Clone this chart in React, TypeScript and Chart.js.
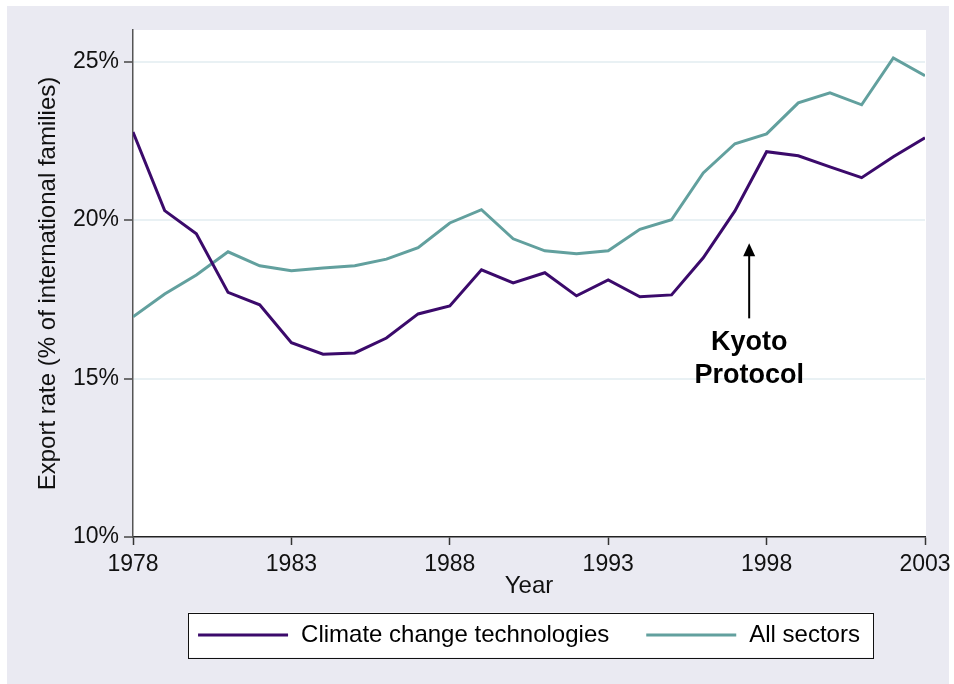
import React, { useEffect, useRef } from "react";
import { Chart, registerables } from "chart.js";

Chart.register(...registerables);

const years = [
  1978, 1979, 1980, 1981, 1982, 1983, 1984, 1985, 1986, 1987, 1988, 1989, 1990,
  1991, 1992, 1993, 1994, 1995, 1996, 1997, 1998, 1999, 2000, 2001, 2002, 2003,
];
const climateChange = [
  22.78, 20.3, 19.57, 17.72, 17.33, 16.13, 15.77, 15.81, 16.28, 17.04, 17.29, 18.43, 18.02,
  18.34, 17.61, 18.11, 17.58, 17.64, 18.81, 20.29, 22.16, 22.03, 21.68, 21.34, 22.0, 22.6,
];
const allSectors = [
  16.95, 17.67, 18.27, 19.0, 18.56, 18.4, 18.49, 18.56, 18.77, 19.13, 19.91, 20.33, 19.41,
  19.03, 18.94, 19.03, 19.71, 20.01, 21.49, 22.41, 22.72, 23.7, 24.02, 23.64, 25.12, 24.56,
];
const seriesLabels = ["Climate change technologies", "All sectors"];
const xTicks = [1978, 1983, 1988, 1993, 1998, 2003];
const yTicks = [10, 15, 20, 25];
const annotationLines = ["Kyoto", "Protocol"];
const arrowYear = 1997.45;
const arrowTipValue = 19.27;
const arrowBaseValue = 16.9;
const annotationTextValues = [16.13, 15.08];

const FONT = "'Liberation Sans', Arial, Helvetica, sans-serif";
const PURPLE = "#3b0a6b";
const TEAL = "#62a09e";

export default function App() {
  const ref = useRef<HTMLCanvasElement | null>(null);

  useEffect(() => {
    document.documentElement.style.overflow = "hidden";
    document.body.style.overflow = "hidden";
    document.body.style.margin = "0";
    if (!ref.current) return;

    const bgPlugin = {
      id: "plotBg",
      beforeDraw(chart: any) {
        const { ctx, chartArea: a } = chart;
        ctx.save();
        ctx.fillStyle = "#ffffff";
        ctx.fillRect(a.left, a.top, a.right - a.left + 1, a.bottom - a.top);
        ctx.restore();
      },
    };

    const annotationPlugin = {
      id: "kyoto",
      afterDatasetsDraw(chart: any) {
        const { ctx, scales } = chart;
        const x = scales.x.getPixelForValue(arrowYear);
        const yTip = scales.y.getPixelForValue(arrowTipValue);
        const yBase = scales.y.getPixelForValue(arrowBaseValue);
        ctx.save();
        ctx.strokeStyle = "#000";
        ctx.fillStyle = "#000";
        ctx.lineWidth = 2;
        ctx.beginPath();
        ctx.moveTo(x, yBase);
        ctx.lineTo(x, yTip + 10);
        ctx.stroke();
        ctx.beginPath();
        ctx.moveTo(x, yTip);
        ctx.lineTo(x - 6, yTip + 13);
        ctx.lineTo(x + 6, yTip + 13);
        ctx.closePath();
        ctx.fill();
        ctx.font = `bold 27px ${FONT}`;
        ctx.textAlign = "center";
        ctx.textBaseline = "middle";
        annotationLines.forEach((t, i) => {
          ctx.fillText(t, x, scales.y.getPixelForValue(annotationTextValues[i]));
        });
        ctx.restore();
      },
    };

    const legendPlugin = {
      id: "framedLegend",
      afterDraw(chart: any) {
        const { ctx, chartArea: a } = chart;
        const ds = chart.data.datasets;
        ctx.save();
        ctx.font = `24px ${FONT}`;
        const lineLen = 90;
        const gapText = 13;
        const gapItems = 37;
        const widths = ds.map((d: any) => ctx.measureText(d.label).width);
        let total = 0;
        ds.forEach((_: any, i: number) => {
          total += lineLen + gapText + widths[i];
          if (i < ds.length - 1) total += gapItems;
        });
        const cx = (a.left + a.right) / 2;
        const cy = a.bottom + 98;
        let x = cx - total / 2;
        const fx0 = x - 10;
        const fx1 = x + total + 13;
        ctx.fillStyle = "#ffffff";
        ctx.fillRect(fx0, cy - 22.5, fx1 - fx0, 45);
        ctx.strokeStyle = "#111";
        ctx.lineWidth = 1;
        ctx.strokeRect(Math.round(fx0) + 0.5, Math.round(cy - 22.5) + 0.5, Math.round(fx1 - fx0), 45);
        ds.forEach((d: any, i: number) => {
          ctx.strokeStyle = d.borderColor;
          ctx.lineWidth = 3;
          ctx.beginPath();
          ctx.moveTo(x, cy);
          ctx.lineTo(x + lineLen, cy);
          ctx.stroke();
          ctx.fillStyle = "#000";
          ctx.textAlign = "left";
          ctx.textBaseline = "middle";
          ctx.fillText(d.label, x + lineLen + gapText, cy);
          x += lineLen + gapText + widths[i] + gapItems;
        });
        ctx.restore();
      },
    };

    const chart = new Chart(ref.current, {
      type: "line",
      data: {
        datasets: [
          {
            label: seriesLabels[0],
            data: years.map((y, i) => ({ x: y, y: climateChange[i] })),
            borderColor: PURPLE,
            backgroundColor: PURPLE,
            borderWidth: 3,
            pointRadius: 0,
            tension: 0,
          },
          {
            label: seriesLabels[1],
            data: years.map((y, i) => ({ x: y, y: allSectors[i] })),
            borderColor: TEAL,
            backgroundColor: TEAL,
            borderWidth: 3,
            pointRadius: 0,
            tension: 0,
          },
        ],
      },
      options: {
        responsive: false,
        maintainAspectRatio: false,
        animation: false,
        layout: { padding: { top: 30, right: 29, bottom: 77, left: 0 } },
        plugins: {
          legend: { display: false },
          tooltip: { enabled: false },
        },
        scales: {
          x: {
            type: "linear",
            min: 1978,
            max: 2003,
            afterBuildTicks: (s: any) => {
              s.ticks = xTicks.map((v) => ({ value: v }));
            },
            afterFit: (s: any) => {
              s.height = 70;
              s.paddingLeft = 0;
              s.paddingRight = 0;
            },
            ticks: {
              callback: (v: any) => String(v),
              font: { size: 23, family: FONT },
              color: "#111",
              padding: 6,
              maxRotation: 0,
            },
            grid: {
              drawOnChartArea: false,
              drawTicks: true,
              tickLength: 8,
              tickColor: "#333",
              tickWidth: 1.5,
            },
            border: { color: "#222", width: 1.5 },
            title: {
              display: true,
              text: "Year",
              font: { size: 24, family: FONT },
              color: "#111",
              padding: { top: 0, bottom: 6 },
            },
          },
          y: {
            type: "linear",
            min: 10,
            max: 26,
            afterBuildTicks: (s: any) => {
              s.ticks = yTicks.map((v) => ({ value: v }));
            },
            afterFit: (s: any) => {
              s.width = 133;
            },
            ticks: {
              callback: (v: any) => `${v}%`,
              font: { size: 23, family: FONT },
              color: "#111",
              padding: 5,
            },
            grid: {
              color: (c: any) => (c.tick && c.tick.value === 10 ? "rgba(0,0,0,0)" : "#e9f1f4"),
              lineWidth: 2,
              tickLength: 9,
              tickColor: "#444",
              tickWidth: 1.5,
            },
            border: { color: "#555", width: 1.5 },
            title: {
              display: true,
              text: "Export rate (% of international families)",
              font: { size: 24, family: FONT },
              color: "#111",
              padding: { top: 34, bottom: 0 },
            },
          },
        },
      },
      plugins: [bgPlugin, annotationPlugin, legendPlugin],
    });

    return () => chart.destroy();
  }, []);

  return (
    <div
      style={{
        position: "relative",
        width: 954,
        height: 684,
        background: "#ffffff",
        overflow: "hidden",
      }}
    >
      <div
        style={{
          position: "absolute",
          left: 7,
          top: 6,
          width: 942,
          height: 678,
          background: "#eaeaf2",
        }}
      />
      <canvas
        ref={ref}
        width={954}
        height={684}
        style={{ position: "absolute", left: 0, top: 0, width: 954, height: 684 }}
      />
    </div>
  );
}
